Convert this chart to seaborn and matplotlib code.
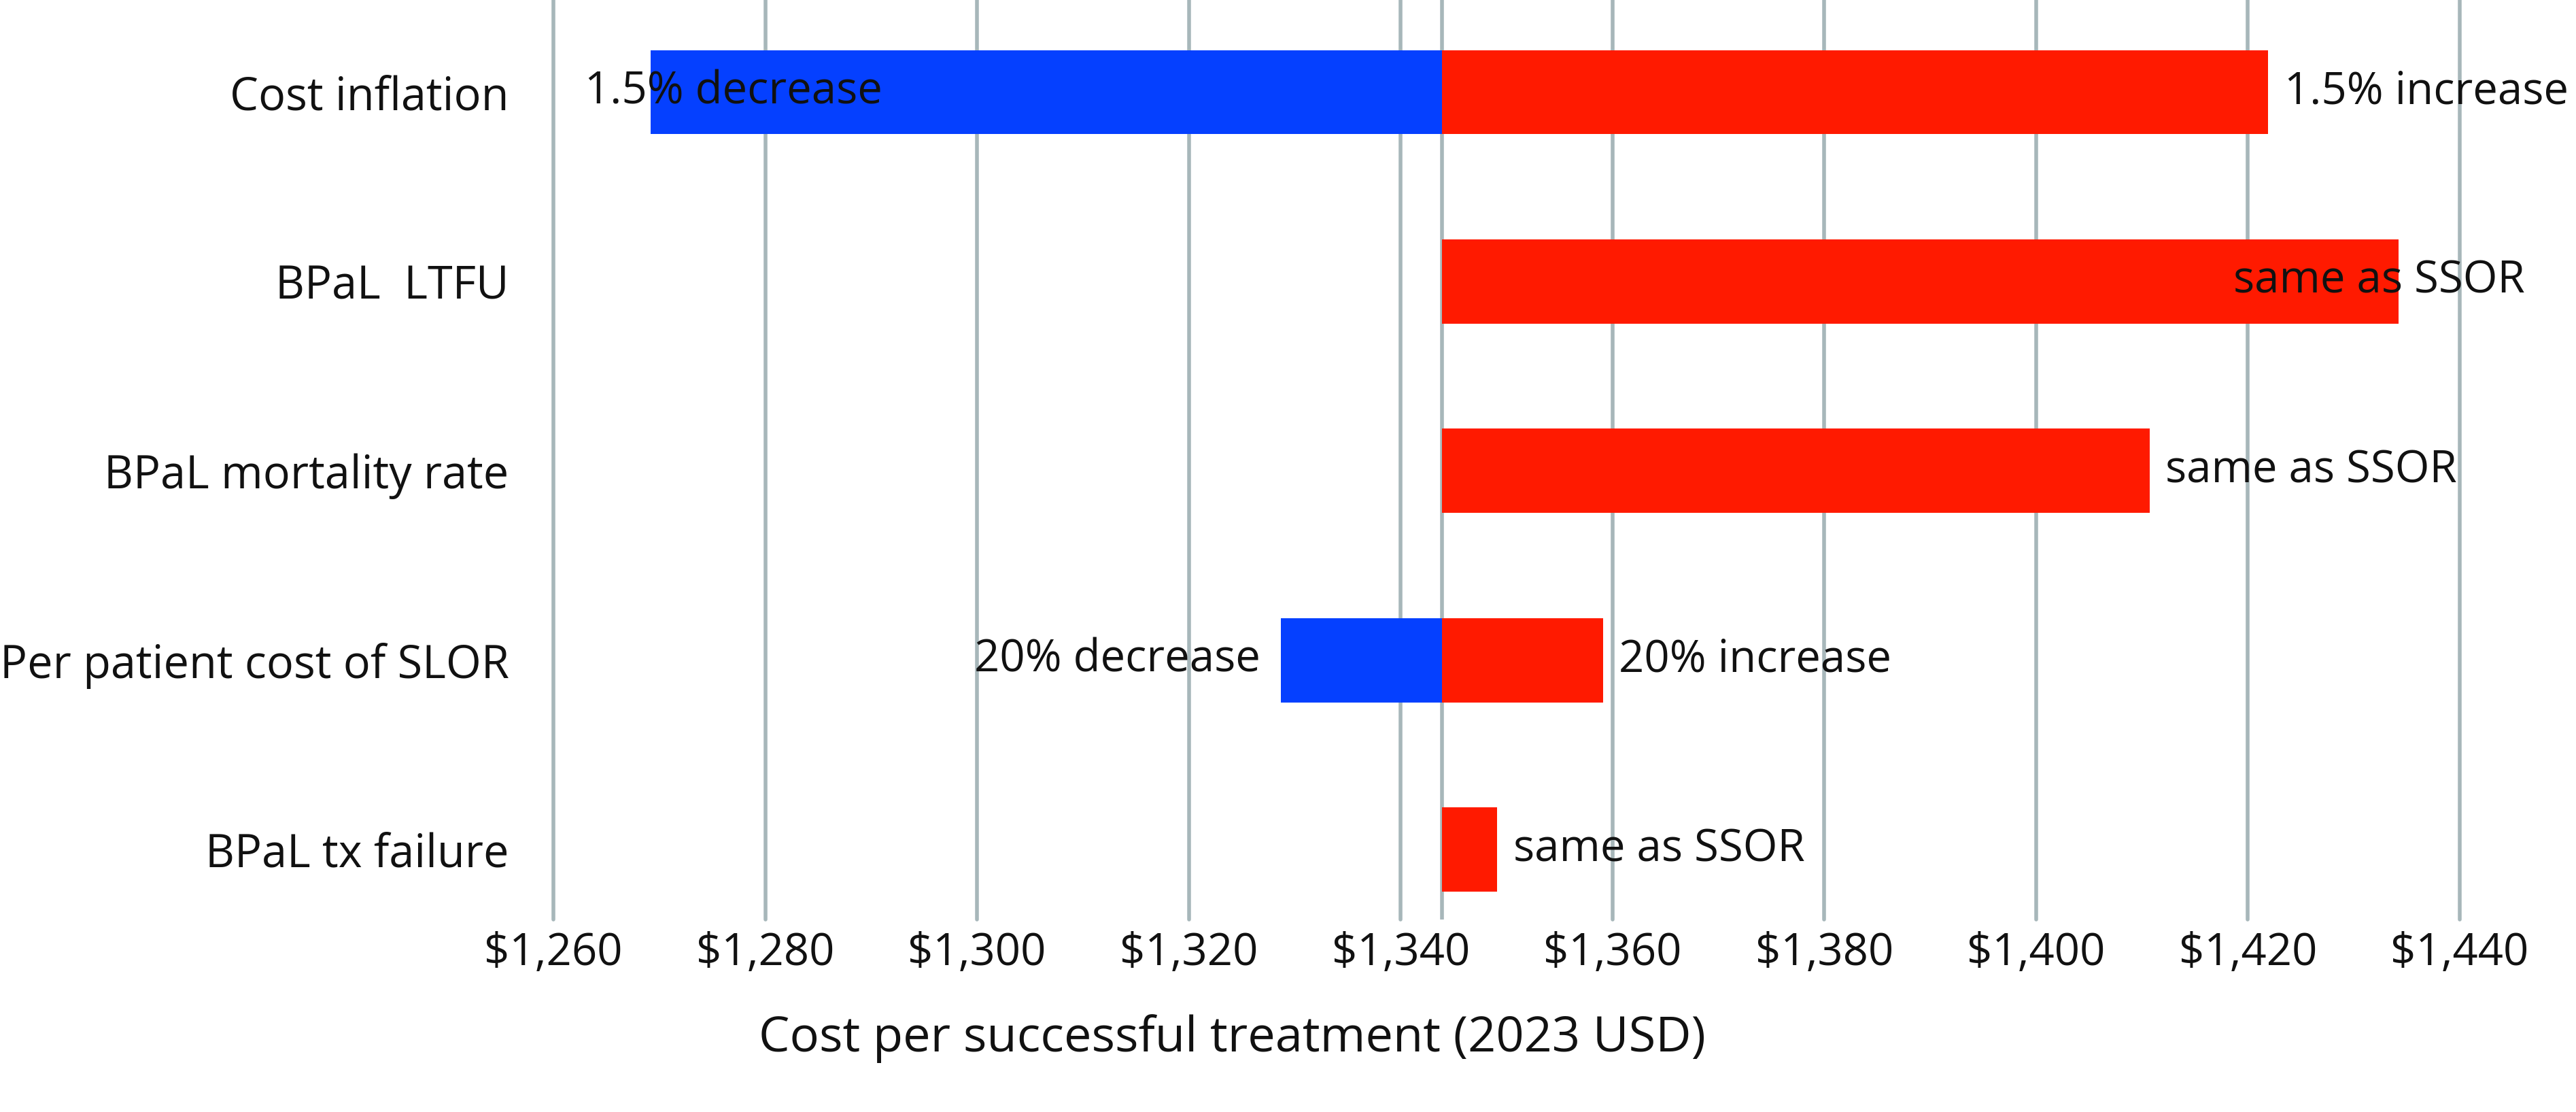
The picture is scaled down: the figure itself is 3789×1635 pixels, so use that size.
import matplotlib
matplotlib.use('Agg')
import matplotlib.pyplot as plt
import numpy as np
import pandas as pd
import seaborn as sns

# tornado chart values
factors = ['Cost inflation', 'BPaL  LTFU', 'BPaL mortality rate',
           'Per patient cost of SLOR', 'BPaL tx failure']
base_cost = 1343.9
low_cost = [1269.2, np.nan, np.nan, 1328.7, np.nan]
high_cost = [1421.9, 1434.2, 1410.7, 1359.1, 1349.1]
low_labels = ['1.5% decrease', '', '', '20% decrease', '']
high_labels = ['1.5% increase', 'same as SSOR', 'same as SSOR',
               '20% increase', 'same as SSOR']
x_ticks = list(range(1260, 1441, 20))

BLUE = '#0540FF'
RED = '#FF1A00'
GRID = '#A7B7BA'

sns.set_theme(style='white')
plt.rcParams['font.family'] = ['Open Sans', 'DejaVu Sans']

rows = []
for f, lo, hi in zip(factors, low_cost, high_cost):
    rows.append({'factor': f, 'side': 'high', 'delta': hi - base_cost})
    if not np.isnan(lo):
        rows.append({'factor': f, 'side': 'low', 'delta': lo - base_cost})
df = pd.DataFrame(rows)

fig = plt.figure(figsize=(37.89, 16.35), dpi=100)
ax = fig.add_axes([814 / 3789, 1 - 1352 / 1635, (3618 - 814) / 3789, 1352 / 1635])

sns.barplot(data=df, y='factor', x='delta', hue='side', order=factors,
            palette={'high': RED, 'low': BLUE}, dodge=False, width=0.445,
            left=base_cost, legend=False, ax=ax, linewidth=0, saturation=1)

ax.set_xlim(1260, 1440)
ax.set_ylim(4.37, -0.487)
ax.set_xticks(x_ticks)
ax.xaxis.set_major_formatter(matplotlib.ticker.StrMethodFormatter('${x:,.0f}'))
ax.grid(axis='x', color=GRID, lw=4)
ax.grid(axis='y', visible=False)
for gl in ax.get_xgridlines():
    gl.set_clip_on(False)
ax.set_axisbelow(True)
ax.axvline(base_cost, color=GRID, lw=4, zorder=0.5)
for s in ax.spines.values():
    s.set_visible(False)
ax.set_xlabel('')
ax.set_ylabel('')
ax.tick_params(axis='y', length=0, pad=47, labelsize=48, labelcolor='#111111')
ax.tick_params(axis='x', length=0, pad=12, labelsize=47, labelcolor='#111111')

# bar end labels, pulled back inside the chart if they would run off
fig.canvas.draw()
r = fig.canvas.get_renderer()
inv = ax.transData.inverted()
right_lim = 3714
left_lim = 860
for i in range(len(factors)):
    t = ax.annotate(high_labels[i], (high_cost[i], i), xytext=(17, 0),
                    textcoords='offset points', ha='left', va='center',
                    fontsize=47, color='#111111', annotation_clip=False)
    bb = t.get_window_extent(r)
    if bb.x1 > right_lim + 80:
        t.remove()
        xv = inv.transform((right_lim, 0))[0]
        ax.text(xv, i, high_labels[i], ha='right', va='center',
                fontsize=47, color='#111111')
    if low_labels[i]:
        t = ax.annotate(low_labels[i], (low_cost[i], i), xytext=(-22, 0),
                        textcoords='offset points', ha='right', va='center',
                        fontsize=47, color='#111111', annotation_clip=False)
        bb = t.get_window_extent(r)
        if bb.x0 < left_lim:
            t.remove()
            xv = inv.transform((left_lim, 0))[0]
            ax.text(xv, i, low_labels[i], ha='left', va='center',
                    fontsize=47, color='#111111')

fig.text(1812 / 3789, 1 - 1527 / 1635, 'Cost per successful treatment (2023 USD)',
         ha='center', va='center', fontsize=52, color='#111111')

fig.savefig('out.png', dpi=100)
